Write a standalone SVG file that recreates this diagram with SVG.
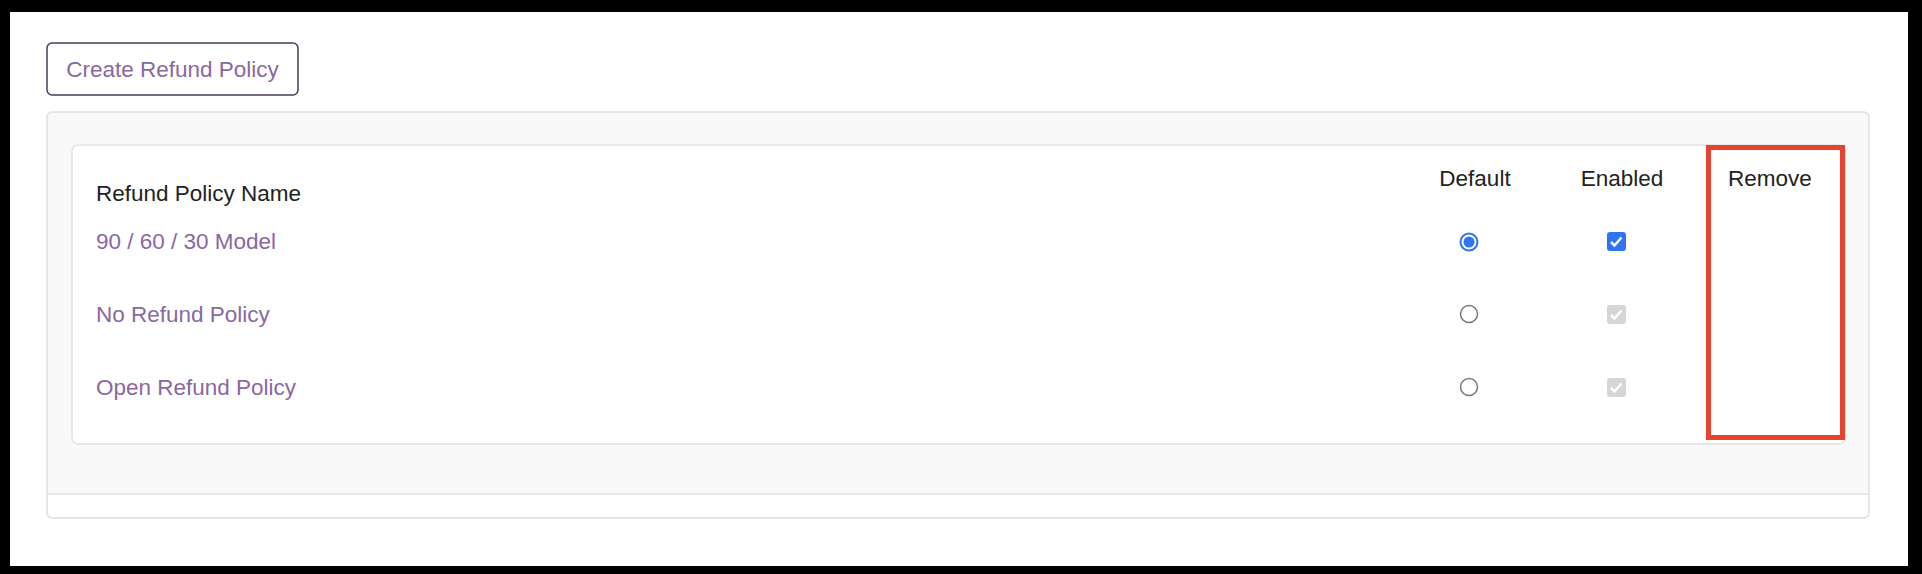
<svg xmlns="http://www.w3.org/2000/svg" width="1922" height="574" viewBox="0 0 1922 574">
<style>
text{font-family:"Liberation Sans",Arial,sans-serif;font-size:22.5px}
.h{fill:#222}
.l{fill:#8a68a0}
.rad{fill:#fff;stroke:#777;stroke-width:1.5}
.dis{fill:#d6d6d6}
</style>
<rect x="0" y="0" width="1922" height="574" fill="#000"/>
<rect x="10" y="12" width="1898" height="554" fill="#fff"/>
<g id="create-button">
<rect x="47" y="43" width="251" height="52" rx="5" fill="#fff" stroke="#4a3b5c" stroke-width="1.5"/>
<text class="l" x="172.5" y="76.5" text-anchor="middle">Create Refund Policy</text>
</g>
<g id="panel">
<rect x="47" y="112" width="1822" height="406" rx="5" fill="#f9f9f9" stroke="#e0e0e0" stroke-width="1.5"/>
<path d="M48 494H1868V512a5 5 0 0 1-5 5H53a5 5 0 0 1-5-5Z" fill="#fff"/>
<line x1="47" y1="494" x2="1869" y2="494" stroke="#e0e0e0" stroke-width="1.5"/>
</g>
<g id="table">
<rect x="72" y="145" width="1773" height="299" rx="6" fill="#fff" stroke="#e2e2e2" stroke-width="1.5"/>
<text class="h" x="96" y="200.5">Refund Policy Name</text>
<text class="h" x="1475" y="185.5" text-anchor="middle">Default</text>
<text class="h" x="1622" y="185.5" text-anchor="middle">Enabled</text>
<text class="h" x="1770" y="185.5" text-anchor="middle">Remove</text>
</g>
<g id="row1">
<text class="l" x="96" y="248.5">90 / 60 / 30 Model</text>
<circle cx="1469" cy="242" r="8.5" fill="#fff" stroke="#2f74f0" stroke-width="2"/>
<circle cx="1469" cy="242" r="5.5" fill="#2f74f0"/>
<rect x="1607" y="232" width="19" height="19" rx="3" fill="#2f74f0"/>
<path d="M1611 242l3.5 3.5 7-8" fill="none" stroke="#fff" stroke-width="2.5"/>
</g>
<g id="row2">
<text class="l" x="96" y="321.5">No Refund Policy</text>
<circle class="rad" cx="1469" cy="314" r="8.5"/>
<rect class="dis" x="1607" y="305" width="19" height="19" rx="3"/>
<path d="M1611 315l3.5 3.5 7-8" fill="none" stroke="#fff" stroke-width="2.5"/>
</g>
<g id="row3">
<text class="l" x="96" y="394.5">Open Refund Policy</text>
<circle class="rad" cx="1469" cy="387" r="8.5"/>
<rect class="dis" x="1607" y="378" width="19" height="19" rx="3"/>
<path d="M1611 388l3.5 3.5 7-8" fill="none" stroke="#fff" stroke-width="2.5"/>
</g>
<g id="highlight">
<rect x="1708.5" y="147.5" width="134" height="290" fill="none" stroke="#e8412c" stroke-width="5"/>
</g>
<g id="connectors"/>
</svg>
